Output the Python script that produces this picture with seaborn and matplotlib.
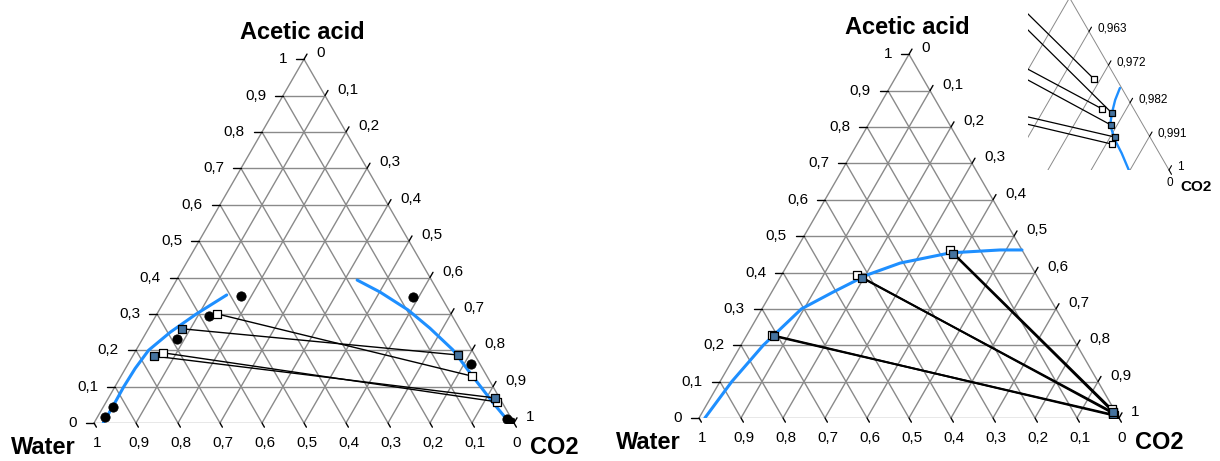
import numpy as np
import pandas as pd
import matplotlib.pyplot as plt
import seaborn as sns

H = np.sqrt(3) / 2
BLUE = "#1e8fff"
GRID = "#8a8a8a"
FILL = "#45739f"

# mass fractions: acetic acid (a) and CO2 (c), water is the rest
# ---- left diagram ----
left_curve1_a = [0.0, 0.05, 0.10, 0.15, 0.20, 0.25, 0.30, 0.352]
left_curve1_c = [0.022, 0.022, 0.021, 0.023, 0.030, 0.057, 0.094, 0.140]
left_curve2_a = [0.393, 0.360, 0.311, 0.261, 0.201, 0.127, 0.055, 0.0]
left_curve2_c = [0.430, 0.501, 0.592, 0.669, 0.754, 0.839, 0.923, 0.990]
left_dots_a = [0.0165, 0.044, 0.231, 0.294, 0.349, 0.346, 0.162, 0.010, 0.002]
left_dots_c = [0.018, 0.023, 0.082, 0.127, 0.175, 0.586, 0.816, 0.979, 0.992]
left_tie_kind = ["open", "filled", "filled", "open"]
left_tie_a1 = [0.300, 0.259, 0.184, 0.193]
left_tie_c1 = [0.143, 0.080, 0.051, 0.068]
left_tie_a2 = [0.129, 0.187, 0.069, 0.058]
left_tie_c2 = [0.835, 0.773, 0.920, 0.931]

# ---- right diagram ----
right_curve1_a = [0.0, 0.10, 0.20, 0.30, 0.346, 0.393, 0.426, 0.454, 0.462, 0.462]
right_curve1_c = [0.014, 0.028, 0.053, 0.094, 0.146, 0.203, 0.266, 0.371, 0.486, 0.538]
right_curve2_a = [0.0219, 0.0187, 0.0152, 0.0120, 0.0080, 0.0045, 0.0]
right_curve2_c = [0.9777, 0.9782, 0.9792, 0.9804, 0.9835, 0.9868, 0.9907]
right_tie_kind = ["open", "filled", "open", "filled", "open", "filled"]
right_tie_a1 = [0.228, 0.225, 0.393, 0.386, 0.462, 0.451]
right_tie_c1 = [0.060, 0.066, 0.179, 0.196, 0.367, 0.380]
right_tie_a2 = [0.0069, 0.0088, 0.0163, 0.0120, 0.0243, 0.0152]
right_tie_c2 = [0.9834, 0.9831, 0.9764, 0.9806, 0.9705, 0.9792]

main_ticks = [0.0, 0.1, 0.2, 0.3, 0.4, 0.5, 0.6, 0.7, 0.8, 0.9, 1.0]
main_tick_labels = ["0", "0,1", "0,2", "0,3", "0,4", "0,5", "0,6", "0,7", "0,8", "0,9", "1"]
inset_grid = [0.954, 0.963, 0.972, 0.982, 0.991]
inset_ticks = [0.963, 0.972, 0.982, 0.991, 1.0]
inset_tick_labels = ["0,963", "0,972", "0,982", "0,991", "1"]


def to_xy(a, c):
    a = np.asarray(a, dtype=float)
    c = np.asarray(c, dtype=float)
    return c + a / 2, a * H


def tie_frame(a1, c1, a2, c2):
    rows = []
    for i in range(len(a1)):
        for a, c in ((a1[i], c1[i]), (a2[i], c2[i])):
            x, y = to_xy(a, c)
            rows.append({"tie": i, "x": float(x), "y": float(y)})
    return pd.DataFrame(rows)


def draw_data(ax, curves, dots, kind, a1, c1, a2, c2, tie_lw, msize, curve_lw=2.2):
    for ca, cc in curves:
        x, y = to_xy(ca, cc)
        sns.lineplot(x=x, y=y, sort=False, estimator=None, color=BLUE, lw=curve_lw,
                     ax=ax, zorder=3)
    ties = tie_frame(a1, c1, a2, c2)
    sns.lineplot(data=ties, x="x", y="y", units="tie", estimator=None, sort=False,
                 color="black", lw=tie_lw, ax=ax, zorder=4)
    if dots is not None:
        x, y = to_xy(*dots)
        sns.scatterplot(x=x, y=y, color="black", s=45, edgecolor="black",
                        ax=ax, zorder=5)
    kind = np.array(kind)
    for k, face in (("open", "white"), ("filled", FILL)):
        m = kind == k
        pa = np.concatenate([np.array(a1)[m], np.array(a2)[m]])
        pc = np.concatenate([np.array(c1)[m], np.array(c2)[m]])
        x, y = to_xy(pa, pc)
        sns.scatterplot(x=x, y=y, marker="s", s=msize, color=face,
                        edgecolor="black", linewidth=0.9, ax=ax, zorder=6)


def draw_main(ax):
    # grid in the three directions, the triangle edges included
    for v in main_ticks[:-1]:
        for a, c in (([v, v], [0, 1 - v]), ([0, 1 - v], [v, v]), ([0, 1 - v], [1 - v, 0])):
            x, y = to_xy(a, c)
            ax.plot(x, y, color=GRID, lw=1.0, zorder=1)
    L = 8 / 420
    for v, lab in zip(main_ticks, main_tick_labels):
        # acetic acid, left edge
        x, y = to_xy(v, 0)
        ax.plot([x, x - L], [y, y], color="black", lw=1, clip_on=False)
        ax.annotate(lab, (x, y), xytext=(-17, 0), textcoords="offset pixels",
                    ha="right", va="center", fontsize=11)
        # CO2, right edge
        x, y = to_xy(1 - v, v)
        ax.plot([x, x + 0.75 * L * 0.5], [y, y + 0.75 * L * H], color="black", lw=1, clip_on=False)
        ax.annotate(lab, (x, y), xytext=(12, 6), textcoords="offset pixels",
                    ha="left", va="center", fontsize=11)
        # water, bottom edge
        x, y = to_xy(0, 1 - v)
        ax.plot([x, x + 0.6 * L * 0.5], [y, y - 0.6 * L * H], color="black", lw=1, clip_on=False)
        ax.annotate(lab, (x, y), xytext=(3, -20), textcoords="offset pixels",
                    ha="center", va="center", fontsize=11)
    bold = dict(textcoords="offset pixels", ha="center", va="center",
                fontsize=17, fontweight="bold")
    ax.annotate("Acetic acid", to_xy(1, 0), xytext=(-2, 27), **bold)
    ax.annotate("Water", to_xy(0, 0), xytext=(-51, -24), **bold)
    ax.annotate("CO2", to_xy(0, 1), xytext=(40, -24), **bold)
    ax.set_xlim(0, 1)
    ax.set_ylim(0, H)
    ax.axis("off")


sns.set_theme(style="white")
plt.rcParams["font.family"] = ["Liberation Sans", "DejaVu Sans"]
plt.rcParams["text.color"] = "black"

fig = plt.figure(figsize=(12.2, 4.61), dpi=100)
W, FH = 1220, 461

ax1 = fig.add_axes([94 / W, (FH - 423) / FH, 420 / W, 420 * H / FH])
draw_data(ax1, [(left_curve1_a, left_curve1_c), (left_curve2_a, left_curve2_c)],
          (left_dots_a, left_dots_c), left_tie_kind,
          left_tie_a1, left_tie_c1, left_tie_a2, left_tie_c2, 1.0, 30)
draw_main(ax1)

ax2 = fig.add_axes([699 / W, (FH - 418) / FH, 420 / W, 420 * H / FH])
draw_data(ax2, [(right_curve1_a, right_curve1_c), (right_curve2_a, right_curve2_c)],
          None, right_tie_kind,
          right_tie_a1, right_tie_c1, right_tie_a2, right_tie_c2, 1.4, 30)
draw_main(ax2)

# zoomed view of the CO2 corner of the right diagram
S = 4324
ax3 = fig.add_axes([1028 / W, (FH - 170) / FH, 141 / W, 170 / FH])
draw_data(ax3, [(right_curve2_a, right_curve2_c)], None, right_tie_kind,
          right_tie_a1, right_tie_c1, right_tie_a2, right_tie_c2, 0.9, 20, curve_lw=1.7)
for v in inset_grid:
    x, y = to_xy([0, 1 - v], [v, v])
    ax3.plot(x, y, color=GRID, lw=0.7, zorder=1)
for a, c in (([0, 0], [0, 1]), ([0, 1], [1, 0])):
    x, y = to_xy(a, c)
    ax3.plot(x, y, color=GRID, lw=0.7, zorder=1)
Li = 5 / S
for v, lab in zip(inset_ticks, inset_tick_labels):
    x, y = to_xy(1 - v, v)
    ax3.plot([x, x + Li * 0.5], [y, y + Li * H], color="black", lw=0.8, clip_on=False)
    ax3.annotate(lab, (x, y), xytext=(8, 3), textcoords="offset pixels",
                 ha="left", va="center", fontsize=8.5, annotation_clip=False)
x, y = to_xy(0, 1)
ax3.plot([x, x + Li * 0.5], [y, y - Li * H], color="black", lw=0.8, clip_on=False)
ax3.annotate("0", (x, y), xytext=(1, -13), textcoords="offset pixels",
             ha="center", va="center", fontsize=8.5, annotation_clip=False)
ax3.annotate("CO2", (x, y), xytext=(11, -17), textcoords="offset pixels",
             ha="left", va="center", fontsize=11, fontweight="bold", annotation_clip=False)
ax3.set_xlim(1 - 141 / S, 1)
ax3.set_ylim(0, 170 / S)
ax3.axis("off")

fig.savefig("out.png", dpi=100)
